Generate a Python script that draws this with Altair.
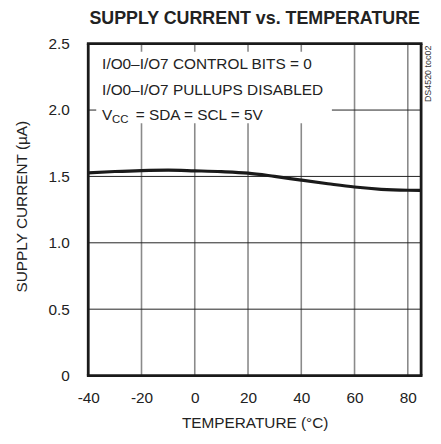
import altair as alt
import pandas as pd

temps = [-40, -30, -20, -10, 0, 10, 20, 30, 40, 50, 60, 70, 80, 85]
currents = [1.527, 1.537, 1.544, 1.547, 1.542, 1.536, 1.525, 1.500, 1.472, 1.445, 1.420, 1.403, 1.396, 1.395]

x_domain = [-40, 85]
y_domain = [0, 2.5]
x_ticks = [-40, -20, 0, 20, 40, 60, 80]
y_ticks = [0, 0.5, 1.0, 1.5, 2.0, 2.5]
v_grid = [-20, 0, 20, 40, 60, 80]
h_grid = [0.5, 1.0, 1.5, 2.0]

title_text = "SUPPLY CURRENT vs. TEMPERATURE"
note_lines = ["I/O0–I/O7 CONTROL BITS = 0", "I/O0–I/O7 PULLUPS DISABLED"]
note_v = ["V", "CC", "= SDA = SCL = 5V"]
note_box = {"x": -37, "x2": 51.5, "y": 2.44, "y2": 1.90}

FONT = "Liberation Sans, Arial"
W, H = 336, 335
TXT = "#222"

xs = alt.Scale(domain=x_domain, nice=False, zero=False)
ys = alt.Scale(domain=y_domain, nice=False)

x_axis = alt.Axis(values=x_ticks, title="TEMPERATURE (°C)", grid=False, ticks=False,
                  domain=False, labelExpr="'' + datum.value", labelPadding=15,
                  labelFlush=False, labelFontSize=15.5, titleFontSize=15.5,
                  titleFontWeight="normal", titlePadding=10, labelColor=TXT, titleColor=TXT,
                  labelFont=FONT, titleFont=FONT)
y_axis = alt.Axis(values=y_ticks, title="SUPPLY CURRENT (µA)", grid=False, ticks=False,
                  domain=False, labelFlush=False,
                  labelExpr="datum.value == 0 ? '0' : format(datum.value, '.1f')",
                  labelPadding=19, labelFontSize=15.5, titleFontSize=15.5,
                  titleFontWeight="normal", titlePadding=19, titleY=164, labelColor=TXT,
                  titleColor=TXT, labelFont=FONT, titleFont=FONT)

curve_df = pd.DataFrame({"t": temps, "i": currents})

curve = alt.Chart(curve_df).mark_line(color="#1a1a1a", strokeWidth=3.2, interpolate="monotone").encode(
    x=alt.X("t:Q", scale=xs, axis=x_axis), y=alt.Y("i:Q", scale=ys, axis=y_axis))

vg = alt.Chart(pd.DataFrame({"t": v_grid})).mark_rule(color="#8a8a8a", strokeWidth=1.6).encode(
    x=alt.X("t:Q", scale=xs, axis=x_axis))
hg = alt.Chart(pd.DataFrame({"i": h_grid})).mark_rule(color="#222", strokeWidth=1).encode(
    y=alt.Y("i:Q", scale=ys, axis=y_axis))

box = alt.Chart(pd.DataFrame([note_box])).mark_rect(color="white").encode(
    x=alt.X("x:Q", scale=xs, axis=x_axis), x2="x2:Q",
    y=alt.Y("y:Q", scale=ys, axis=y_axis), y2="y2:Q")

# frame: two vertical and two horizontal rules at the domain limits
frame_v = alt.Chart(pd.DataFrame({"t": x_domain, "y0": [y_domain[0]] * 2, "y1": [y_domain[1]] * 2})).mark_rule(
    color="#1a1a1a", strokeWidth=2.8).encode(
    x=alt.X("t:Q", scale=xs, axis=x_axis),
    y=alt.Y("y0:Q", scale=ys, axis=y_axis), y2="y1:Q")
frame_h = alt.Chart(pd.DataFrame({"i": y_domain, "x0": [x_domain[0]] * 2, "x1": [x_domain[1]] * 2})).mark_rule(
    color="#1a1a1a", strokeWidth=2.8, strokeCap="square").encode(
    y=alt.Y("i:Q", scale=ys, axis=y_axis),
    x=alt.X("x0:Q", scale=xs, axis=x_axis), x2="x1:Q")

one = pd.DataFrame({"a": [0]})


def label(text, px, py, size, align="left", weight="normal"):
    return alt.Chart(one).mark_text(text=text, align=align, baseline="alphabetic", font=FONT,
                                    fontSize=size, fontWeight=weight, color=TXT).encode(
        x=alt.value(px), y=alt.value(py))


notes = [
    label(note_lines[0], 14, 26, 15.5),
    label(note_lines[1], 14, 51.5, 15.5),
    label(note_v[0], 14, 77, 15.5),
    label(note_v[1], 24, 80, 11.5),
    label(note_v[2], 48, 77, 15.5),
]

title = label(title_text, W / 2, -20, 18, align="center", weight="bold")

side = alt.Chart(one).mark_text(
    text="DS4520 toc02", angle=270, align="right", baseline="middle", font=FONT, fontSize=9,
    color="#333").encode(x=alt.value(W + 7), y=alt.value(2))

chart = alt.layer(vg, hg, box, *notes, curve, frame_v, frame_h, side, title).properties(
    width=W, height=H,
    padding={"left": 81, "top": 34, "right": 12, "bottom": 58},
    autosize=alt.AutoSizeParams(type="none"),
).configure_view(stroke="transparent")

chart.save("out.html", embed_options={"renderer": "svg", "actions": False})
